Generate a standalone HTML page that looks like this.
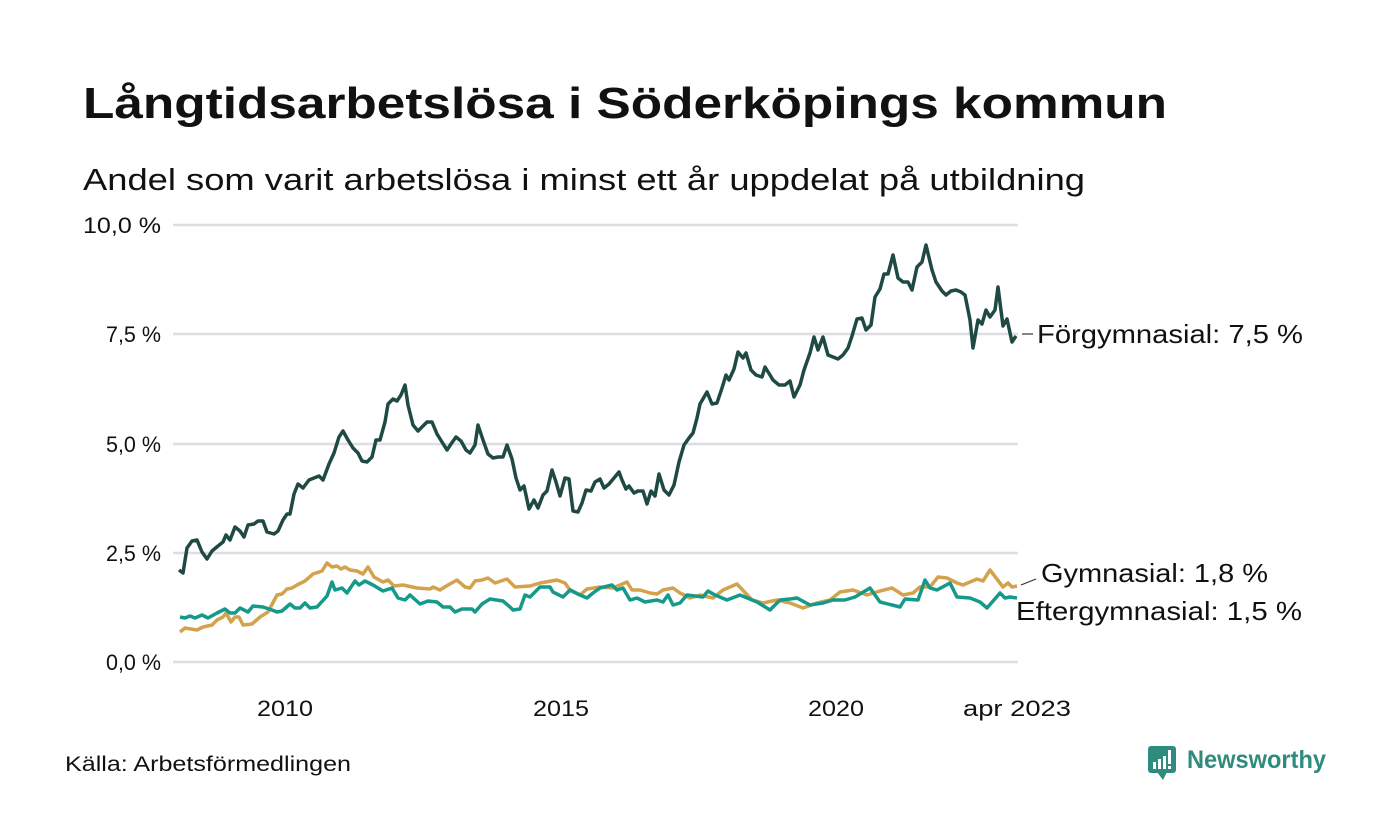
<!DOCTYPE html>
<html><head><meta charset="utf-8"><style>
body{margin:0;background:#fff;}
svg{display:block;font-family:"Liberation Sans","DejaVu Sans",sans-serif;}
</style></head><body>
<svg width="1400" height="840" viewBox="0 0 1400 840">
<rect width="1400" height="840" fill="#fff"/>
<text x="83" y="118" font-size="44" font-weight="bold" fill="#111" textLength="1084" lengthAdjust="spacingAndGlyphs">Långtidsarbetslösa i Söderköpings kommun</text>
<text x="83" y="190" font-size="31" fill="#111" textLength="1002" lengthAdjust="spacingAndGlyphs">Andel som varit arbetslösa i minst ett år uppdelat på utbildning</text>
<g stroke="#dedde2" stroke-width="2.5">
<line x1="173" x2="1018" y1="225" y2="225"/><line x1="173" x2="1018" y1="334" y2="334"/>
<line x1="173" x2="1018" y1="444" y2="444"/><line x1="173" x2="1018" y1="553" y2="553"/>
<line x1="173" x2="1018" y1="662" y2="662"/></g>
<g font-size="22" fill="#111" text-anchor="end">
<text x="161" y="233" textLength="78" lengthAdjust="spacingAndGlyphs">10,0 %</text><text x="161" y="342" textLength="55" lengthAdjust="spacingAndGlyphs">7,5 %</text><text x="161" y="452" textLength="55" lengthAdjust="spacingAndGlyphs">5,0 %</text>
<text x="161" y="561" textLength="55" lengthAdjust="spacingAndGlyphs">2,5 %</text><text x="161" y="670" textLength="55" lengthAdjust="spacingAndGlyphs">0,0 %</text></g>
<g font-size="22" fill="#111" text-anchor="middle">
<text x="285" y="716" textLength="56" lengthAdjust="spacingAndGlyphs">2010</text><text x="561" y="716" textLength="56" lengthAdjust="spacingAndGlyphs">2015</text><text x="836" y="716" textLength="56" lengthAdjust="spacingAndGlyphs">2020</text><text x="1017" y="716" textLength="108" lengthAdjust="spacingAndGlyphs">apr 2023</text></g>
<g fill="none" stroke-width="3.5" stroke-linejoin="round">
<polyline stroke="#d4a24c" points="180,632 185,628 197,630 203,627 212,625 217,620 223,617 226,613 231,622 235,617 239,617 243,625 252,624 260,617 268,612 277,595 282,594 287,589 292,588 297,585 305,581 313,574 322,571 327,563 332,567 337,566 341,569 345,567 350,570 357,571 363,574 368,567 374,577 383,582 388,580 394,586 403,585 417,588 430,589 433,587 440,590 448,585 457,580 465,587 470,588 475,581 482,580 488,578 495,583 507,579 515,587 530,586 540,583 557,580 565,583 570,590 580,595 587,589 600,587 613,588 627,582 632,590 640,590 650,593 657,594 663,590 673,588 680,593 690,598 700,595 713,598 723,590 737,584 752,600 763,603 777,600 790,603 803,608 817,603 830,600 840,592 853,590 867,595 880,591 892,588 903,595 913,593 920,587 930,587 938,577 947,578 957,583 963,585 977,579 983,581 990,570 1003,587 1008,583 1012,587 1017,586"/>
<polyline stroke="#14998a" points="180,617 185,618 190,616 195,618 202,615 208,618 217,613 225,609 230,613 235,613 240,608 248,612 253,606 263,607 272,610 277,612 282,611 290,604 295,608 300,608 305,603 310,608 317,607 327,596 332,582 335,590 342,588 347,593 355,581 359,585 365,581 373,585 383,591 392,588 398,598 405,600 410,595 420,604 428,601 437,602 443,607 450,607 455,612 462,609 472,609 475,612 482,604 490,599 503,601 510,607 513,610 520,609 525,595 530,597 540,587 550,587 553,592 563,597 570,590 580,595 587,598 593,593 600,588 612,585 617,590 623,588 630,600 637,598 645,602 657,600 663,602 668,595 673,605 680,603 687,595 703,597 708,591 715,595 727,600 740,595 757,602 770,610 780,600 790,599 797,598 810,605 823,603 833,600 845,600 855,597 870,588 880,602 892,605 900,607 905,599 918,600 925,580 930,588 937,590 950,583 957,597 970,598 980,602 987,608 1000,593 1005,598 1010,597 1017,598"/>
<polyline stroke="#1f4a43" points="179,570 183,573 187,548 192,541 197,540 202,552 207,559 212,551 218,546 223,542 226,535 230,540 235,527 240,531 244,537 248,525 254,524 258,521 263,521 267,532 274,534 278,531 283,520 287,514 290,514 294,494 298,484 303,488 309,480 314,478 319,476 323,480 329,464 334,453 339,437 343,431 348,440 353,448 358,453 362,461 367,462 372,457 376,440 380,440 385,422 388,404 393,399 397,401 401,395 405,385 408,405 413,425 418,431 422,427 427,422 432,422 437,434 442,442 447,450 451,444 456,437 461,441 466,450 470,453 475,445 478,425 483,440 488,454 493,458 498,457 503,457 507,445 512,459 516,478 520,490 524,486 529,509 534,500 538,508 543,495 547,491 552,470 556,482 560,496 565,478 569,479 573,511 578,512 582,503 586,490 591,491 595,482 600,479 604,488 609,484 614,478 619,472 622,480 626,489 629,486 634,493 638,491 643,491 647,504 651,491 655,496 659,474 664,490 669,495 674,485 679,462 684,445 689,438 693,433 697,418 700,404 707,392 712,404 717,403 722,388 726,375 729,380 734,369 738,352 743,358 746,353 751,370 756,375 762,377 765,367 770,375 773,380 779,385 785,385 790,381 794,397 800,385 804,370 810,353 814,337 818,350 823,337 828,355 833,357 838,359 843,355 848,348 852,336 857,319 862,318 866,330 871,325 875,297 880,289 884,274 888,274 893,255 898,278 903,282 908,282 912,290 917,267 922,262 926,245 932,270 936,282 942,291 946,295 951,291 956,290 961,292 965,295 970,320 973,348 978,320 982,324 986,310 990,317 995,310 998,287 1003,326 1007,319 1012,342 1016,336"/>
</g>
<g stroke="#333" stroke-width="1.2"><line x1="1022" y1="334" x2="1033" y2="334"/><line x1="1021" y1="585" x2="1036" y2="579"/></g>
<g font-size="26" fill="#111">
<text x="1037" y="343" textLength="266" lengthAdjust="spacingAndGlyphs">Förgymnasial: 7,5 %</text>
<text x="1041" y="582" textLength="227" lengthAdjust="spacingAndGlyphs">Gymnasial: 1,8 %</text>
<text x="1016" y="620" textLength="286" lengthAdjust="spacingAndGlyphs">Eftergymnasial: 1,5 %</text></g>
<text x="65" y="771" font-size="21" fill="#111" textLength="286" lengthAdjust="spacingAndGlyphs">Källa: Arbetsförmedlingen</text>
<g fill="#2e8b7d">
<rect x="1148" y="746" width="28" height="27" rx="3"/>
<polygon points="1157,772 1163,780 1167,772"/>
<text x="1187" y="768" font-size="25" font-weight="bold" textLength="139" lengthAdjust="spacingAndGlyphs">Newsworthy</text></g>
<g fill="#fff"><rect x="1153" y="762" width="3" height="7"/><rect x="1158" y="759" width="3" height="10"/><rect x="1163" y="756" width="3" height="13"/><rect x="1168" y="750" width="3" height="14"/><rect x="1168" y="766" width="3" height="3"/></g>
</svg>
</body></html>
